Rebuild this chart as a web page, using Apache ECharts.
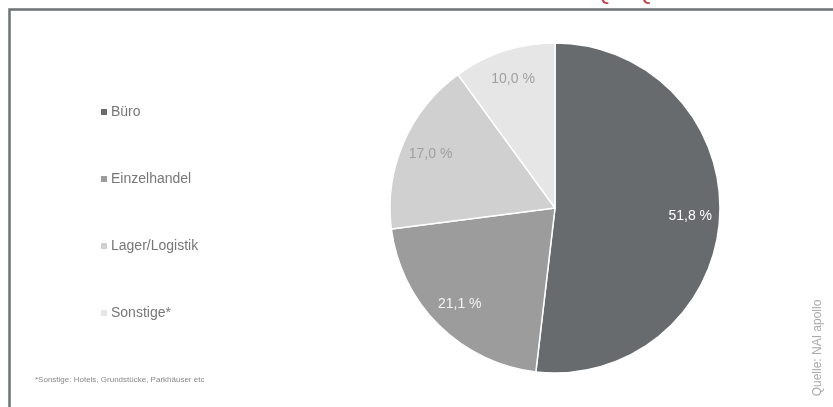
<!DOCTYPE html>
<html>
<head>
<meta charset="utf-8">
<script src="https://cdn.jsdelivr.net/npm/echarts@6/dist/echarts.min.js"></script>
<style>html,body{margin:0;padding:0;background:#fff}#c{width:833px;height:407px}</style>
</head>
<body>
<div id="c"></div>
<script>
const categories = ['Büro', 'Einzelhandel', 'Lager/Logistik', 'Sonstige*'];
const values = [51.8, 21.1, 17.0, 10.0];
const colors = ['#676b6e', '#9c9c9c', '#d0d0d0', '#e6e6e6'];
const labelColors = ['#ffffff', '#f4f4f4', '#a0a0a0', '#a0a0a0'];
const titleText = 'Anteil am Transaktionsvolumen nach Assetklassen Q1-Q4 2017';
const footnote = '*Sonstige: Hotels, Grundstücke, Parkhäuser etc';
const sourceText = 'Quelle: NAI apollo';

const fmt = v => v.toFixed(1).replace('.', ',') + ' %';
const FONT = '"Liberation Sans", Arial, sans-serif';

const chart = echarts.init(document.getElementById('c'));
chart.setOption({
  animation: false,
  legend: {
    orient: 'vertical',
    left: 94,
    top: 100,
    itemGap: 53,
    itemWidth: 8,
    itemHeight: 8,
    icon: 'rect',
    textStyle: { color: '#777', fontSize: 14, fontFamily: FONT, padding: [0, 0, 0, -2] },
    data: categories.map((n, i) => ({ name: n, itemStyle: { color: colors[i] } }))
  },
  graphic: [
    { type: 'rect', left: 7, top: 7, shape: { width: 900, height: 500 }, style: { fill: 'none', stroke: '#6d7275', lineWidth: 2.5 }, silent: true, z: 10 },
    { type: 'text', left: 22, top: -20, style: { text: titleText, fill: '#c0464c', font: '25px ' + FONT } },
    { type: 'text', left: 35, top: 376, style: { text: footnote, fill: '#888', font: '8px ' + FONT } },
    { type: 'text', x: 818, y: 348, rotation: Math.PI / 2, style: { text: sourceText, fill: '#aaa', font: '12px ' + FONT, align: 'center', verticalAlign: 'middle' } }
  ],
  series: [
    {
      type: 'pie',
      center: [555, 208],
      radius: [0, 165],
      startAngle: 90,
      clockwise: true,
      label: { show: false },
      labelLine: { show: false },
      itemStyle: { borderColor: '#ffffff', borderWidth: 1.5 },
      emphasis: { disabled: true },
      data: categories.map((n, i) => ({ name: n, value: values[i], itemStyle: { color: colors[i] } }))
    },
    {
      type: 'pie',
      center: [555, 208],
      radius: [100, 165],
      startAngle: 90,
      clockwise: true,
      silent: true,
      legendHoverLink: false,
      itemStyle: { color: 'rgba(0,0,0,0)' },
      label: {
        show: true,
        position: 'inside',
        fontSize: 14,
        fontFamily: FONT,
        formatter: p => fmt(values[p.dataIndex])
      },
      labelLine: { show: false },
      emphasis: { disabled: true },
      data: categories.map((n, i) => ({ name: n, value: values[i], label: { color: labelColors[i] } }))
    }
  ]
});
</script>
</body>
</html>
